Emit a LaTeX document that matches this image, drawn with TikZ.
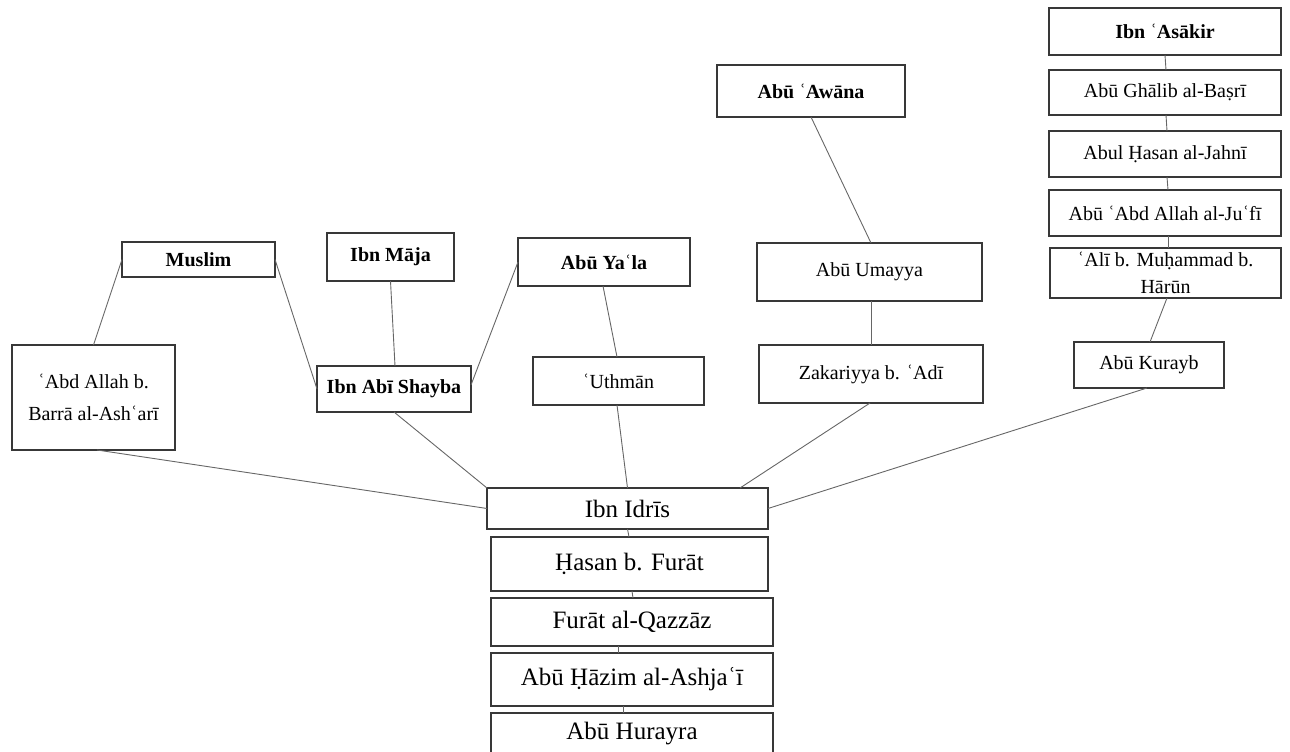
\documentclass[tikz,border=0pt]{standalone}
\usepackage{fontspec}
\setmainfont{Liberation Serif}
\newcommand\ayn{ʿ}
\tikzset{
  person/.style={draw=black!78, line width=1.5pt, fill=white, inner sep=0pt,
    outer sep=0pt, align=center, font=\fontsize{20}{26}\selectfont},
  chief/.style={person, font=\bfseries\fontsize{20}{26}\selectfont},
  chain/.style={person, font=\fontsize{25}{30}\selectfont},
  link/.style={draw=black!60, line width=0.9pt},
}
\begin{document}
\begin{tikzpicture}[x=1pt,y=-1pt]
\clip (0,0) rectangle (1290,752);

% right-hand chain
\node[chief, minimum width=232pt, minimum height=47pt] (asakir) at (1165,31.5) {Ibn \ayn Asākir};
\node[person, minimum width=232pt, minimum height=45pt] (ghalib) at (1165,92.5) {Abū Ghālib al-Baṣrī};
\node[person, minimum width=232pt, minimum height=46pt] (jahni) at (1165,154) {Abul Ḥasan al-Jahnī};
\node[person, minimum width=232pt, minimum height=46pt] (jufi) at (1165,213) {Abū \ayn Abd Allah al-Ju\ayn fī};
\node[person, minimum width=231pt, minimum height=50pt, font=\fontsize{20}{27}\selectfont] (ali) at (1165.5,273) {\ayn Alī b. Muḥammad b.\\ Hārūn};
\node[person, minimum width=150pt, minimum height=46pt] (kurayb) at (1149,365) {Abū Kurayb};

% Abu Awana chain
\node[chief, minimum width=188pt, minimum height=52pt] (awana) at (811,91) {Abū \ayn Awāna};
\node[person, minimum width=225pt, minimum height=58pt] (umayya) at (869.5,272) {Abū Umayya};
\node[person, minimum width=224pt, minimum height=58pt] (zakariyya) at (871,374) {Zakariyya b. \ayn Adī};

% left-hand group
\node[chief, minimum width=153pt, minimum height=35pt] (muslim) at (198.5,259.5) {Muslim};
\node[person, minimum width=163pt, minimum height=105pt, font=\fontsize{20}{32}\selectfont] (abdallah) at (93.5,397.5) {\ayn Abd Allah b.\\ Barrā al-Ash\ayn arī};
\node[chief, minimum width=127pt, minimum height=48pt] (maja) at (390.5,257) {Ibn Māja};
\node[chief, minimum width=172pt, minimum height=48pt] (yala) at (604,262) {Abū Ya\ayn la};
\node[chief, minimum width=154pt, minimum height=46pt] (shayba) at (394,389) {Ibn Abī Shayba};
\node[person, minimum width=171pt, minimum height=48pt] (uthman) at (618.5,381) {\ayn Uthmān};

% common chain
\node[chain, minimum width=281pt, minimum height=41pt] (idris) at (627.5,508.5) {Ibn Idrīs};
\node[chain, minimum width=277pt, minimum height=54pt] (hasan) at (629.5,564) {Ḥasan b. Furāt};
\node[chain, minimum width=282pt, minimum height=48pt] (furat) at (632,622) {Furāt al-Qazzāz};
\node[chain, minimum width=282pt, minimum height=53pt] (hazim) at (632,679.5) {Abū Ḥāzim al-Ashja\ayn ī};
\node[chain, minimum width=282pt, minimum height=72pt] (hurayra) at (632,749) {};
\node[font=\fontsize{25}{30}\selectfont, inner sep=0pt] (hurayralabel) at (632,734) {Abū Hurayra};

% connectors
\draw[link] (asakir.south) -- ([xshift=1pt]ghalib.north);
\draw[link] ([xshift=1pt]ghalib.south) -- ([xshift=2pt]jahni.north);
\draw[link] ([xshift=2pt]jahni.south) -- ([xshift=3pt]jufi.north);
\draw[link] ([xshift=3pt]jufi.south) -- ([xshift=2.5pt]ali.north);
\draw[link] ([xshift=1.5pt]ali.south) -- ([xshift=1pt]kurayb.north);
\draw[link] ([xshift=-2pt]kurayb.south) -- (idris.east);

\draw[link] (awana.south) -- ([xshift=1.5pt]umayya.north);
\draw[link] ([xshift=1.5pt]umayya.south) -- (zakariyya.north);
\draw[link] ([xshift=-1pt]zakariyya.south) -- ([xshift=112.5pt]idris.north);

\draw[link] (muslim.west) -- (abdallah.north);
\draw[link] (muslim.east) -- (shayba.west);
\draw[link] (maja.south) -- ([xshift=1pt]shayba.north);
\draw[link] (yala.west) -- ([yshift=4pt]shayba.east);
\draw[link] ([xshift=-1pt]yala.south) -- ([xshift=-1.5pt]uthman.north);
\draw[link] ([xshift=-1.5pt]uthman.south) -- (idris.north);
\draw[link] (shayba.south) -- (idris.north west);
\draw[link] ([xshift=3.5pt]abdallah.south) -- (idris.west);

\draw[link] (idris.south) -- ([xshift=-0.5pt]hasan.north);
\draw[link] ([xshift=2.5pt]hasan.south) -- ([xshift=1pt]furat.north);
\draw[link] ([xshift=-14pt]furat.south) -- ([xshift=-14pt]hazim.north);
\draw[link] ([xshift=-9pt]hazim.south) -- ([xshift=-9pt]hurayra.north);
\end{tikzpicture}
\end{document}
